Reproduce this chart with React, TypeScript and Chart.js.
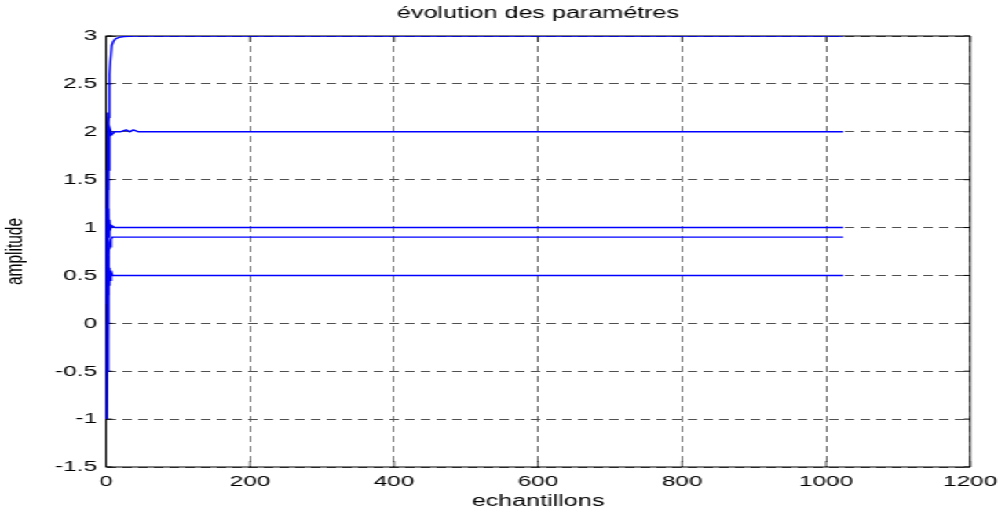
import React, { useEffect, useRef } from 'react';
import { Chart, registerables } from 'chart.js';

Chart.register(...registerables);

// ---- data ----
const chartTitle = 'évolution des paramétres';
const xAxisLabel = 'echantillons';
const yAxisLabel = 'amplitude';

const xTicks = [0, 200, 400, 600, 800, 1000, 1200];
const yTicks = [-1.5, -1, -0.5, 0, 0.5, 1, 1.5, 2, 2.5, 3];

// parameter converging to 3
const samplesA = [1, 2, 3, 4, 5, 6, 7, 8, 10, 13, 18, 25, 40, 1024];
const paramA = [0.2, 1.4, 2.1, 2.15, 2.6, 2.72, 2.72, 2.9, 2.94, 2.97, 2.985, 2.995, 3, 3];

// parameter converging to 2
const samplesB = [1, 2, 3, 4, 5, 6, 8, 12, 20, 28, 33, 38, 45, 1024];
const paramB = [-1, 1.0, 2.2, 1.6, 1.95, 2.02, 1.97, 2.0, 2.0, 2.02, 2.0, 2.02, 2.0, 2.0];

// parameter converging to 1
const samplesC = [1, 2, 3, 4, 5, 6, 8, 12, 1024];
const paramC = [1.6, -0.5, 1.2, 0.9, 1.08, 0.98, 1.02, 1.0, 1.0];

// parameter converging to 0.9
const samplesD = [1, 2, 3, 4, 5, 6, 7, 9, 1024];
const paramD = [1.2, 0.3, 0.6, 0.78, 0.82, 0.8, 0.88, 0.9, 0.9];

// parameter converging to 0.5
const samplesE = [1, 2, 3, 4, 5, 6, 7, 9, 12, 1024];
const paramE = [-1, 0.0, 0.7, 0.4, 0.58, 0.45, 0.55, 0.5, 0.5, 0.5];

const seriesList = [
  { xs: samplesA, ys: paramA },
  { xs: samplesB, ys: paramB },
  { xs: samplesC, ys: paramC },
  { xs: samplesD, ys: paramD },
  { xs: samplesE, ys: paramE },
];

// ---- layout ----
const CANVAS_W = 640;
const CANVAS_H = 513;
const STRETCH = 1005 / CANVAS_W;
const FONT = '"Liberation Sans", Arial, Helvetica, sans-serif';

const boxPlugin = {
  id: 'matlabBox',
  beforeDatasetsDraw(chart: any) {
    const { ctx, chartArea } = chart;
    const { left, right, top, bottom } = chartArea;
    const xs = chart.scales.x;
    const ys = chart.scales.y;
    ctx.save();
    ctx.strokeStyle = '#000';
    ctx.setLineDash([]);
    // horizontal edges
    ctx.lineWidth = 1.2;
    ctx.beginPath();
    ctx.moveTo(left, top);
    ctx.lineTo(right, top);
    ctx.moveTo(left, bottom);
    ctx.lineTo(right, bottom);
    ctx.stroke();
    // vertical edges
    ctx.lineWidth = 1;
    ctx.beginPath();
    ctx.moveTo(left, top);
    ctx.lineTo(left, bottom);
    ctx.moveTo(right, top);
    ctx.lineTo(right, bottom);
    ctx.stroke();
    // inward tick marks
    const hLen = 4;
    const vLen = 6;
    ctx.lineWidth = 1;
    ctx.beginPath();
    yTicks.forEach((v) => {
      const py = ys.getPixelForValue(v);
      ctx.moveTo(left, py);
      ctx.lineTo(left + hLen, py);
      ctx.moveTo(right, py);
      ctx.lineTo(right - hLen, py);
    });
    ctx.stroke();
    ctx.lineWidth = 0.7;
    ctx.beginPath();
    xTicks.forEach((v) => {
      const px = xs.getPixelForValue(v);
      ctx.moveTo(px, bottom);
      ctx.lineTo(px, bottom - vLen);
      ctx.moveTo(px, top);
      ctx.lineTo(px, top + vLen);
    });
    ctx.stroke();
    ctx.restore();
  },
};

export default function App() {
  const canvasRef = useRef<HTMLCanvasElement | null>(null);

  useEffect(() => {
    const canvas = canvasRef.current;
    if (!canvas) return;
    const chart = new Chart(canvas, {
      type: 'line',
      data: {
        datasets: seriesList.map((s) => ({
          data: s.xs.map((x, i) => ({ x, y: s.ys[i] })),
          borderColor: '#0000ff',
          borderWidth: 1.4,
          pointRadius: 0,
          fill: false,
          tension: 0,
        })),
      },
      options: {
        responsive: false,
        animation: false,
        devicePixelRatio: 1,
        layout: { padding: { left: 0, right: 19, top: 0, bottom: 0 } },
        plugins: {
          legend: { display: false },
          tooltip: { enabled: false },
          title: {
            display: true,
            text: chartTitle,
            fullSize: false,
            color: '#000',
            font: { family: FONT, size: 16, weight: 'normal' },
            padding: { top: 4.4, bottom: 12.4 },
          },
        },
        scales: {
          x: {
            type: 'linear',
            min: 0,
            max: 1200,
            afterBuildTicks: (scale: any) => {
              scale.ticks = xTicks.map((v) => ({ value: v }));
            },
            afterFit: (scale: any) => {
              scale.height = 46;
            },
            ticks: {
              color: '#000',
              font: { family: FONT, size: 15.5 },
              padding: 5,
              maxRotation: 0,
              autoSkip: false,
              callback: (v: any) => String(v),
            },
            grid: { color: '#202020', lineWidth: 0.65, drawTicks: false },
            border: { display: false, dash: [6, 4] },
            title: {
              display: true,
              text: xAxisLabel,
              color: '#000',
              font: { family: FONT, size: 16 },
              padding: { top: 0, bottom: 2 },
            },
          },
          y: {
            type: 'linear',
            min: -1.5,
            max: 3,
            afterBuildTicks: (scale: any) => {
              scale.ticks = yTicks.map((v) => ({ value: v }));
            },
            afterFit: (scale: any) => {
              scale.width = 67.5;
            },
            ticks: {
              color: '#000',
              font: { family: FONT, size: 15.5 },
              padding: 5.7,
              autoSkip: false,
              callback: (v: any) => String(v),
            },
            grid: { color: '#505050', lineWidth: 1, drawTicks: false },
            border: { display: false, dash: [6, 4] },
            title: {
              display: true,
              text: yAxisLabel,
              color: '#000',
              font: { family: FONT, size: 15.5 },
              padding: { top: 0, bottom: 0 },
            },
          },
        },
      } as any,
      plugins: [boxPlugin],
    });
    return () => chart.destroy();
  }, []);

  return (
    <div
      style={{
        position: 'fixed',
        left: 0,
        top: 0,
        width: CANVAS_W,
        height: CANVAS_H,
        background: '#fff',
        transform: `scaleX(${STRETCH})`,
        transformOrigin: '0 0',
      }}
    >
      <canvas ref={canvasRef} width={CANVAS_W} height={CANVAS_H} style={{ display: 'block' }} />
    </div>
  );
}
